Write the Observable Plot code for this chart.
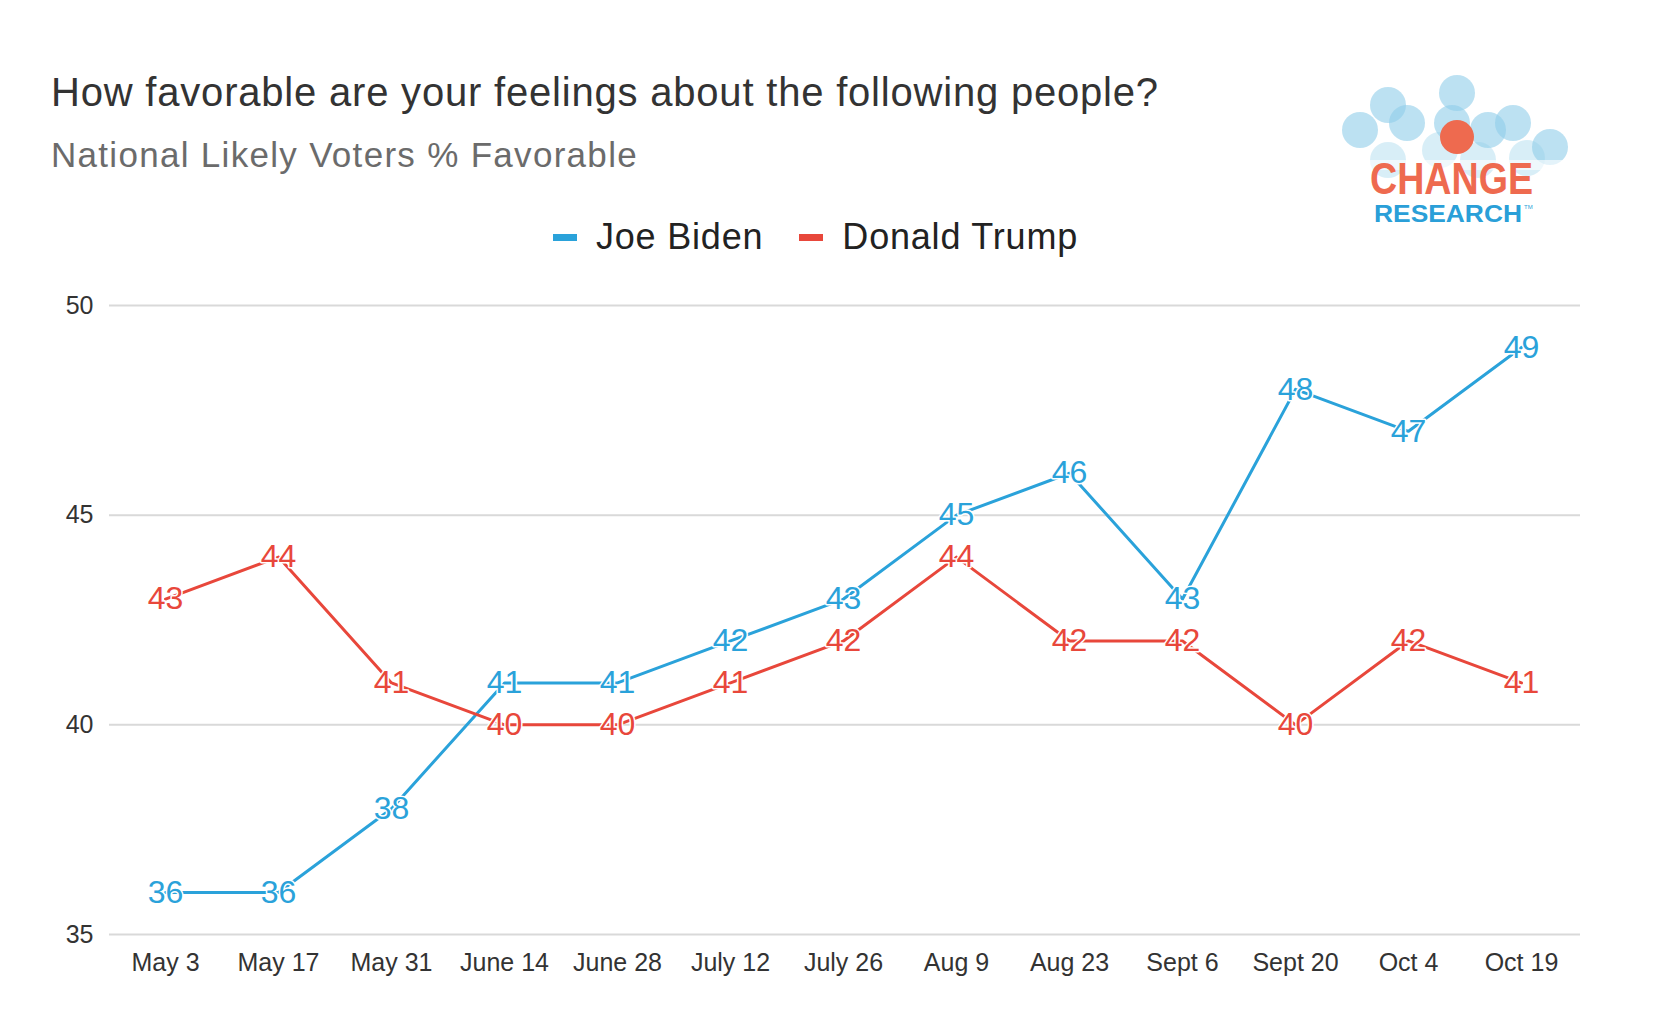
<!DOCTYPE html>
<html>
<head>
<meta charset="utf-8">
<script src="https://cdn.jsdelivr.net/npm/d3@7"></script>
<script src="https://cdn.jsdelivr.net/npm/@observablehq/plot@0.6"></script>
<style>
  html, body { margin: 0; padding: 0; background: #fff; }
  body { width: 1672px; height: 1023px; position: relative; overflow: hidden; font-family: "Liberation Sans", Arial, sans-serif; }
  .abs { position: absolute; white-space: nowrap; }
  #title { left: 51px; top: 69px; font-size: 40px; letter-spacing: 0.8px; color: #333; line-height: 46px; }
  #subtitle { left: 51px; top: 134px; font-size: 35px; letter-spacing: 1.3px; color: #6b6b6b; line-height: 42px; }
  #legend { left: 553px; top: 215px; font-size: 36px; letter-spacing: 0.8px; color: #222; line-height: 44px; display: flex; align-items: center; }
  .sw { display: inline-block; width: 24px; height: 7px; margin-right: 19px; }
  .item { display: flex; align-items: center; margin-right: 36px; }
  #chart { left: 0; top: 270px; }
  #logo { left: 1330px; top: 70px; }
</style>
</head>
<body>
<div id="title" class="abs">How favorable are your feelings about the following people?</div>
<div id="subtitle" class="abs">National Likely Voters % Favorable</div>
<div id="legend" class="abs"></div>
<svg id="logo" class="abs" width="260" height="165" viewBox="1330 70 260 165"></svg>
<div id="chart" class="abs"></div>
<script>
const dates = ["May 3","May 17","May 31","June 14","June 28","July 12","July 26","Aug 9","Aug 23","Sept 6","Sept 20","Oct 4","Oct 19"];
const bidenValues = [36,36,38,41,41,42,43,45,46,43,48,47,49];
const trumpValues = [43,44,41,40,40,41,42,44,42,42,40,42,41];
const seriesNames = ["Joe Biden","Donald Trump"];
const seriesColors = ["#2aa2da","#e8473b"];
const yTicks = [35,40,45,50];

const biden = dates.map((d, i) => ({date: d, value: bidenValues[i], series: seriesNames[0]}));
const trump = dates.map((d, i) => ({date: d, value: trumpValues[i], series: seriesNames[1]}));

// legend
const legend = document.getElementById("legend");
seriesNames.forEach((name, i) => {
  const it = document.createElement("span");
  it.className = "item";
  const sw = document.createElement("span");
  sw.className = "sw";
  sw.style.background = seriesColors[i];
  it.appendChild(sw);
  it.appendChild(document.createTextNode(name));
  legend.appendChild(it);
});

// logo (decorative)
const logo = d3.select("#logo");
const bubbles = [[1360,130],[1388,105],[1407,123],[1457,93],[1452,123],[1488,130],[1513,123],[1550,147],[1388,160],[1527,158],[1478,160],[1440,150]];
bubbles.forEach(([cx, cy], i) => {
  logo.append("circle").attr("cx", cx).attr("cy", cy).attr("r", 18)
    .attr("fill", "#8fcde9").attr("fill-opacity", i >= 8 ? 0.35 : 0.6);
});
logo.append("circle").attr("cx", 1457).attr("cy", 137).attr("r", 17).attr("fill", "#ee6a4f");
logo.append("rect").attr("x", 1330).attr("y", 160).attr("width", 260).attr("height", 10).attr("fill", "#fff").attr("fill-opacity", 0.6);
logo.append("text").attr("x", 1370).attr("y", 194).attr("font-size", 44).attr("font-weight", "bold")
  .attr("textLength", 163).attr("lengthAdjust", "spacingAndGlyphs")
  .attr("font-family", "'Liberation Sans', Arial, sans-serif").attr("fill", "#ee6a4f").text("CHANGE");
logo.append("text").attr("x", 1374).attr("y", 222).attr("font-size", 23).attr("font-weight", "bold")
  .attr("textLength", 148).attr("lengthAdjust", "spacingAndGlyphs")
  .attr("font-family", "'Liberation Sans', Arial, sans-serif").attr("fill", "#2a9fd8").text("RESEARCH");
logo.append("text").attr("x", 1524).attr("y", 209).attr("font-size", 6)
  .attr("font-family", "'Liberation Sans', Arial, sans-serif").attr("fill", "#2a9fd8").text("TM");

const chart = Plot.plot({
  width: 1672,
  height: 724,
  marginLeft: 109,
  marginRight: 92,
  marginTop: 35,
  marginBottom: 60,
  style: {fontFamily: "'Liberation Sans', Arial, sans-serif", fontSize: "25px", color: "#333", background: "transparent"},
  x: {type: "point", domain: dates, range: [161, 1524], padding: 0, label: null},
  y: {domain: [35, 50], label: null},
  marks: [
    Plot.ruleY(yTicks, {stroke: "#d9d9d9", strokeWidth: 2}),
    Plot.axisY(yTicks, {tickSize: 0, tickPadding: 16, fontSize: 25, fill: "#333"}),
    Plot.axisX({tickSize: 0, tickPadding: 19, fontSize: 25, fill: "#333"}),
    Plot.line(biden, {x: "date", y: "value", stroke: seriesColors[0], strokeWidth: 3}),
    Plot.line(trump, {x: "date", y: "value", stroke: seriesColors[1], strokeWidth: 3}),
    Plot.text(biden, {x: "date", y: "value", text: d => String(d.value), fill: seriesColors[0], fontSize: 32, stroke: "white", strokeWidth: 3}),
    Plot.text(trump, {x: "date", y: "value", text: d => String(d.value), fill: seriesColors[1], fontSize: 32, stroke: "white", strokeWidth: 3})
  ]
});
document.getElementById("chart").appendChild(chart);
</script>
</body>
</html>
